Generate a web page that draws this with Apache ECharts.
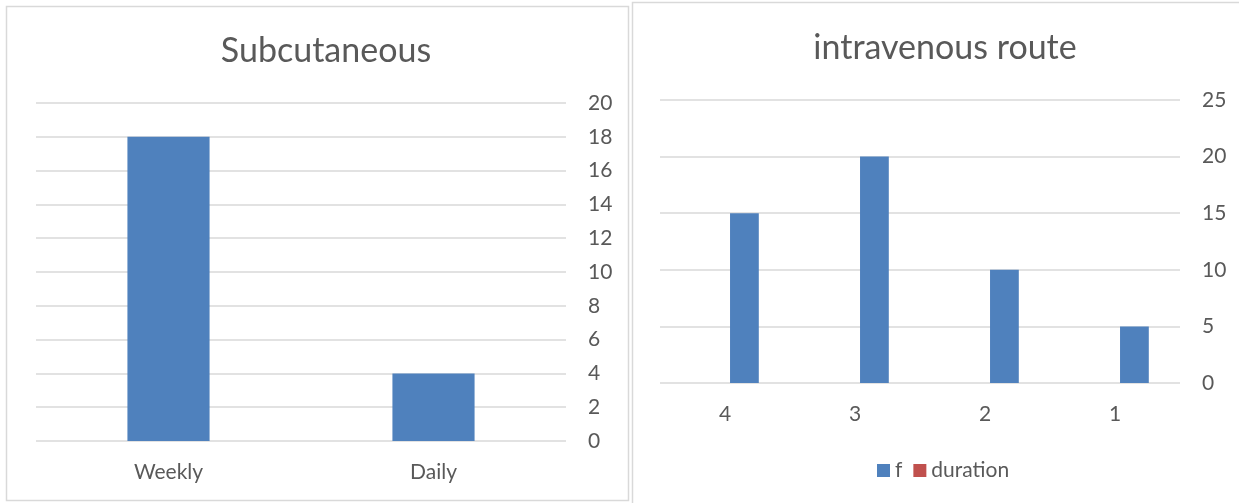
<!DOCTYPE html>
<html>
<head>
<meta charset="utf-8">
<script src="https://cdn.jsdelivr.net/npm/echarts@6/dist/echarts.min.js"></script>
<style>
  html, body { margin: 0; padding: 0; background: #fff; }
  #chart { width: 1239px; height: 503px; }
</style>
</head>
<body>
<div id="chart"></div>
<script>
// Subcutaneous dosing frequency
const scCategories = ['Weekly', 'Daily'];
const scValues = [18, 4];
const scTicks = { min: 0, max: 20, interval: 2 };

// Intravenous route
const ivCategories = ['4', '3', '2', '1'];
const ivF = [15, 20, 10, 5];
const ivDuration = [null, null, null, null];
const ivTicks = { min: 0, max: 25, interval: 5 };

const FONT = 'Lato, "Open Sans", sans-serif';
const TEXT = '#595959';
const GRID = '#d9d9d9';
const BLUE = '#4f81bd';
const RED = '#c0504d';
const LABEL_SIZE = 21;
const TITLE_SIZE = 34;

const chart = echarts.init(document.getElementById('chart'), null, { renderer: 'canvas' });

const valueAxis = (gridIndex, t) => ({
  type: 'value',
  gridIndex,
  position: 'right',
  min: t.min, max: t.max, interval: t.interval,
  axisLine: { show: false },
  axisTick: { show: false },
  axisLabel: { color: TEXT, fontSize: LABEL_SIZE, fontFamily: FONT, margin: 22, align: 'left' },
  splitLine: { lineStyle: { color: GRID, width: 1.5 } }
});

const catAxis = (gridIndex, data) => ({
  type: 'category',
  gridIndex,
  data,
  axisLine: { show: false },
  axisTick: { show: false },
  axisLabel: { color: TEXT, fontSize: LABEL_SIZE, fontFamily: FONT, margin: 21 }
});

chart.setOption({
  animation: false,
  textStyle: { fontFamily: FONT },
  graphic: [
    { type: 'rect', shape: { x: 6.5, y: 6.5, width: 622, height: 494 },
      style: { fill: 'none', stroke: GRID, lineWidth: 1.5 }, silent: true },
    { type: 'rect', shape: { x: 632.5, y: 2.5, width: 640, height: 540 },
      style: { fill: 'none', stroke: GRID, lineWidth: 1.5 }, silent: true }
  ],
  title: [
    { text: 'Subcutaneous', left: 321, top: 29, textAlign: 'center',
      textStyle: { color: TEXT, fontSize: TITLE_SIZE, fontWeight: 'normal', fontFamily: FONT } },
    { text: 'intravenous route', left: 940, top: 26, textAlign: 'center',
      textStyle: { color: TEXT, fontSize: TITLE_SIZE, fontWeight: 'normal', fontFamily: FONT } }
  ],
  legend: {
    data: ['f', 'duration'],
    left: 872, top: 455,
    itemWidth: 13, itemHeight: 13, itemGap: 11,
    icon: 'rect',
    textStyle: { color: TEXT, fontSize: LABEL_SIZE, fontFamily: FONT }
  },
  grid: [
    { left: 36, right: 673, top: 103, bottom: 62 },
    { left: 660, right: 59, top: 100, bottom: 120 }
  ],
  xAxis: [catAxis(0, scCategories), catAxis(1, ivCategories)],
  yAxis: [valueAxis(0, scTicks), valueAxis(1, ivTicks)],
  series: [
    { name: 'Subcutaneous', type: 'bar', xAxisIndex: 0, yAxisIndex: 0,
      data: scValues, barCategoryGap: '69%', itemStyle: { color: BLUE } },
    { name: 'duration', type: 'bar', xAxisIndex: 1, yAxisIndex: 1,
      data: ivDuration, barCategoryGap: '48%', barGap: '35%', itemStyle: { color: RED } },
    { name: 'f', type: 'bar', xAxisIndex: 1, yAxisIndex: 1,
      data: ivF, barCategoryGap: '48%', barGap: '35%', itemStyle: { color: BLUE } }
  ]
});
</script>
</body>
</html>
